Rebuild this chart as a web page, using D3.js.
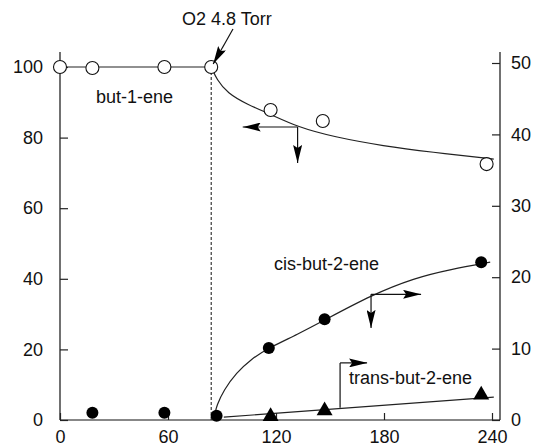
<!DOCTYPE html>
<meta charset="utf-8">
<style>
  body { margin: 0; background: #fff; }
  text { font-family: "Liberation Sans", Arial, sans-serif; font-size: 18px; fill: #111; }
  .axis path, .axis line { stroke: #222; stroke-width: 1.2px; }
  .fit { fill: none; stroke: #222; stroke-width: 1.2px; }
  .ann { stroke: #111; stroke-width: 1.2px; fill: none; }
</style>
<body>
<svg width="534" height="447"></svg>
</body>
<script src="https://d3js.org/d3.v7.min.js"></script>
<script>
// time axis (min) and tick labels
var timeTicks = [0, 60, 120, 180, 240];
var leftTicks = [0, 20, 40, 60, 80, 100];
var rightTicks = [0, 10, 20, 30, 40, 50];
var o2Time = 84;

// but-1-ene (left axis), open circles
var butT = [0, 18, 58, 84, 117, 146, 237];
var butV = [100, 99.7, 100, 100, 87.8, 84.7, 72.5];
// flat part before O2, then fitted decay
var butFlatT = [0, 84];
var butFlatV = [100, 100];
var butFitT = [84.4, 87, 93, 104, 117, 132, 152, 180, 206, 241];
var butFitV = [99.7, 96.5, 92.6, 89.4, 86.6, 83.0, 80.2, 77.6, 75.9, 73.9];

// cis-but-2-ene (right axis), filled circles
var cisT = [18, 58, 87, 116, 147, 234];
var cisV = [1.0, 1.0, 0.6, 10.1, 14.1, 22.1];
var cisFitT = [86, 87, 91, 98, 106, 116, 132, 147, 173, 197, 217, 239];
var cisFitV = [0.8, 2.0, 4.2, 6.6, 8.5, 10.1, 12.0, 14.0, 17.5, 19.9, 21.1, 22.1];

// trans-but-2-ene (right axis), triangles
var transT = [117, 147, 234];
var transV = [0.5, 1.3, 3.5];
var transFitT = [91, 241];
var transFitV = [0.4, 3.2];

var svg = d3.select("svg");

var x = d3.scaleLinear().domain([0, 240]).range([60, 492]);
var yL = d3.scaleLinear().domain([0, 100]).range([420, 67]);
var yR = d3.scaleLinear().domain([0, 50]).range([420, 63]);

// axis lines (extend a bit past the top tick)
svg.append("line").attr("class", "ann")
  .attr("x1", 60).attr("x2", 60).attr("y1", 52).attr("y2", 420);
svg.append("line").attr("class", "ann")
  .attr("x1", 500).attr("x2", 500).attr("y1", 52).attr("y2", 420);
svg.append("line").attr("class", "ann")
  .attr("x1", 60).attr("x2", 500).attr("y1", 420).attr("y2", 420);

var gL = svg.append("g").attr("class", "axis").attr("transform", "translate(60,0)")
  .call(d3.axisLeft(yL).tickValues(leftTicks).tickSize(-8).tickSizeOuter(0).tickPadding(17));
var gR = svg.append("g").attr("class", "axis").attr("transform", "translate(500,0)")
  .call(d3.axisRight(yR).tickValues(rightTicks).tickSize(-8).tickSizeOuter(0).tickPadding(11));
var gB = svg.append("g").attr("class", "axis").attr("transform", "translate(0,420)")
  .call(d3.axisBottom(x).tickValues(timeTicks).tickSize(-7).tickSizeOuter(0).tickPadding(10));
[gL, gR, gB].forEach(function (g) {
  g.select(".domain").remove();
  g.selectAll("text").style("font-size", "18px").attr("fill", "#111")
    .style("font-family", "Liberation Sans, Arial, sans-serif");
});

// dashed O2 line
svg.append("line").attr("class", "ann")
  .attr("x1", x(o2Time)).attr("x2", x(o2Time))
  .attr("y1", yL(100)).attr("y2", yL(0))
  .style("stroke-dasharray", "3,2").style("stroke-width", 1);

function zip(a, b) { return a.map(function (d, i) { return [d, b[i]]; }); }

var lineL = d3.line().x(function (d) { return x(d[0]); }).y(function (d) { return yL(d[1]); })
  .curve(d3.curveBasis);
var lineR = d3.line().x(function (d) { return x(d[0]); }).y(function (d) { return yR(d[1]); })
  .curve(d3.curveBasis);

svg.append("path").attr("class", "fit").attr("d", lineL(zip(butFlatT, butFlatV)));
svg.append("path").attr("class", "fit").attr("d", lineL(zip(butFitT, butFitV)));
svg.append("path").attr("class", "fit").attr("d", lineR(zip(cisFitT, cisFitV)));
svg.append("path").attr("class", "fit").attr("d", lineR(zip(transFitT, transFitV)));

// markers
svg.selectAll(".but").data(zip(butT, butV)).enter().append("circle")
  .attr("cx", function (d) { return x(d[0]); }).attr("cy", function (d) { return yL(d[1]); })
  .attr("r", 6.5).attr("fill", "#fff").attr("stroke", "#111").attr("stroke-width", 1.1);
svg.selectAll(".cis").data(zip(cisT, cisV)).enter().append("circle")
  .attr("cx", function (d) { return x(d[0]); }).attr("cy", function (d) { return yR(d[1]); })
  .attr("r", 6).attr("fill", "#000");
svg.selectAll(".trans").data(zip(transT, transV)).enter().append("path")
  .attr("transform", function (d) { return "translate(" + x(d[0]) + "," + yR(d[1]) + ")"; })
  .attr("d", d3.symbol().type(d3.symbolTriangle).size(110))
  .attr("fill", "#000");

// arrows
var defs = svg.append("defs");
defs.append("marker").attr("id", "ah").attr("viewBox", "0 0 18 9")
  .attr("refX", 18).attr("refY", 4.5).attr("markerWidth", 18).attr("markerHeight", 9)
  .attr("markerUnits", "userSpaceOnUse").attr("orient", "auto")
  .append("path").attr("d", "M0,0L18,4.5L0,9L3,4.5Z").attr("fill", "#000");

function arrow(x1, y1, x2, y2) {
  svg.append("line").attr("class", "ann")
    .attr("x1", x1).attr("y1", y1).attr("x2", x2).attr("y2", y2)
    .attr("marker-end", "url(#ah)");
}

// O2 label + arrow
svg.append("text").attr("x", 182).attr("y", 25).text("O2 4.8 Torr");
arrow(233, 29, x(o2Time) + 2, yL(100) - 3);

// but-1-ene
svg.append("text").attr("x", 96).attr("y", 103).text("but-1-ene");
arrow(x(132), yL(83), x(101.5), yL(83));
arrow(x(132), yL(83), x(132), yL(72.8));

// cis-but-2-ene
svg.append("text").attr("x", 274).attr("y", 270).text("cis-but-2-ene");
arrow(x(172.8), yR(17.6), x(200.6), yR(17.6));
arrow(x(172.8), yR(17.6), x(172.8), yR(12.9));

// trans-but-2-ene
svg.append("text").attr("x", 349).attr("y", 384).text("trans-but-2-ene");
svg.append("line").attr("class", "ann")
  .attr("x1", x(155.6)).attr("x2", x(155.6)).attr("y1", yR(1.7)).attr("y2", yR(8));
arrow(x(155.6), yR(8), x(170.6), yR(8));
</script>
